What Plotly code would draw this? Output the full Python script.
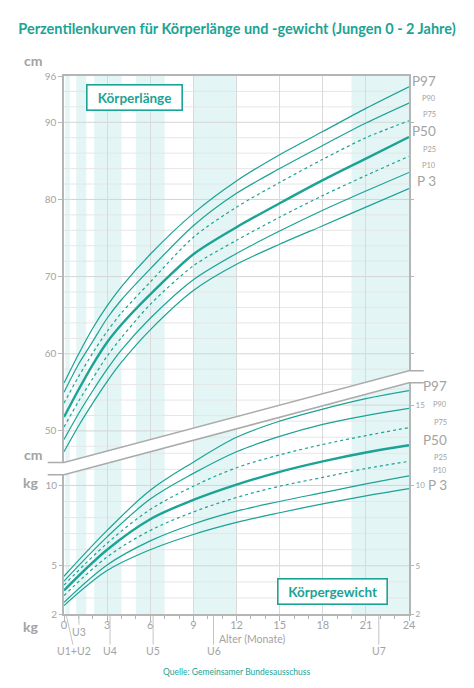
import plotly.graph_objects as go

# ---- data ---------------------------------------------------------------
percentiles = ["P97", "P90", "P75", "P50", "P25", "P10", "P 3"]

# Körperlänge (cm)
age_len = [0, 1, 2, 3, 4, 6, 9, 12, 15, 18, 21, 24]
len_p97 = [56.2, 59.9, 63.3, 66.2, 68.7, 72.9, 78.2, 82.4, 85.8, 88.8, 91.8, 94.6]
len_p90 = [55.0, 58.6, 61.6, 64.6, 67.0, 71.0, 76.6, 80.8, 84.0, 87.0, 89.9, 92.5]
len_p75 = [53.6, 57.0, 60.1, 62.9, 65.3, 69.3, 75.1, 79.0, 82.2, 85.2, 88.0, 90.2]
len_p50 = [51.8, 55.3, 58.6, 61.5, 63.8, 67.7, 72.9, 76.4, 79.5, 82.5, 85.3, 88.1]
len_p25 = [50.5, 53.8, 56.8, 59.7, 62.1, 66.4, 71.4, 74.7, 77.7, 80.5, 83.1, 85.6]
len_p10 = [48.9, 52.2, 55.2, 58.0, 60.5, 64.6, 69.6, 73.0, 75.9, 78.6, 81.1, 83.5]
len_p3 = [47.3, 50.6, 53.6, 56.4, 58.9, 63.1, 68.2, 71.6, 74.2, 76.6, 79.0, 81.4]

# Körpergewicht (kg)
age_wt = [0, 3, 6, 9, 12, 15, 18, 21, 24]
wt_p97 = [4.35, 7.2, 9.7, 11.45, 13.0, 14.0, 14.75, 15.4, 15.9]
wt_p90 = [4.05, 6.8, 9.15, 10.75, 12.1, 13.05, 13.8, 14.35, 14.8]
wt_p75 = [3.8, 6.4, 8.5, 9.95, 11.1, 11.9, 12.55, 13.1, 13.6]
wt_p50 = [3.47, 6.0, 7.9, 9.1, 10.05, 10.85, 11.5, 12.05, 12.5]
wt_p25 = [3.14, 5.55, 7.2, 8.35, 9.25, 9.95, 10.5, 11.05, 11.5]
wt_p10 = [2.72, 5.05, 6.55, 7.6, 8.4, 9.0, 9.55, 10.1, 10.6]
wt_p3 = [2.52, 4.7, 6.0, 6.95, 7.7, 8.3, 8.85, 9.35, 9.8]

# U-Untersuchungen: Zeitfenster (Monate) und Markierungen
band_start = [0.1, 0.85, 2.1, 5.0, 9.0, 20.0]
band_end = [0.4, 1.55, 4.0, 7.0, 12.0, 24.0]
u_names = ["U1+U2", "U3", "U4", "U5", "U6", "U7"]
u_age = [0.17, 1.04, 3.2, 6.2, 10.4, 21.9]

x_ticks = [0, 3, 6, 9, 12, 15, 18, 21, 24]
len_ticks = [50, 60, 70, 80, 90, 96]
wt_ticks_left = [2, 5, 10]
wt_ticks_right = [2, 5, 10, 15]

length_series = [len_p97, len_p90, len_p75, len_p50, len_p25, len_p10, len_p3]
weight_series = [wt_p97, wt_p90, wt_p75, wt_p50, wt_p25, wt_p10, wt_p3]

# ---- layout geometry ----------------------------------------------------
W, H = 474, 688
ML, MR, MT, MB = 64.3, 64.8, 76, 73.7
PW = W - ML - MR
PH = H - MT - MB
LEN_RANGE = [26.27, 96]
WT_RANGE = [2, 35.48]

TEAL = "#1ba395"
GREY = "#a3a3a3"
AXIS = "#b5b5b5"
BAND = "#e3f5f5"
FONT = "Lato"


def fx(px):
    return (px - ML) / PW


def fy(py):
    return (H - MB - py) / PH


def p_len(v):
    return (v - LEN_RANGE[0]) / (LEN_RANGE[1] - LEN_RANGE[0])


def p_wt(v):
    return (v - WT_RANGE[0]) / (WT_RANGE[1] - WT_RANGE[0])


# axis break (pixel positions of the two diagonal lines)
UP = (462.7, 371)
LO = (475, 383)
up0, up1 = fy(UP[0]), fy(UP[1])
lo0, lo1 = fy(LO[0]), fy(LO[1])

fig = go.Figure()

styles = [
    dict(width=1.2),
    dict(width=1.2),
    dict(width=1.2, dash="3px,3px"),
    dict(width=2.4),
    dict(width=1.2, dash="3px,3px"),
    dict(width=1.2),
    dict(width=1.2),
]

for name, ys, st in zip(percentiles, length_series, styles):
    fig.add_trace(go.Scatter(
        x=age_len, y=ys, mode="lines", name=name, yaxis="y",
        line=dict(color=TEAL, shape="spline", smoothing=0.8, **st),
        hoverinfo="skip", showlegend=False))

for name, ys, st in zip(percentiles, weight_series, styles):
    fig.add_trace(go.Scatter(
        x=age_wt, y=ys, mode="lines", name=name, yaxis="y2",
        line=dict(color=TEAL, shape="spline", smoothing=1.0, **st),
        hoverinfo="skip", showlegend=False))

# empty traces so the extra tick axes are drawn
for ax in ["y3", "y4"]:
    fig.add_trace(go.Scatter(x=[None], y=[None], yaxis=ax, showlegend=False,
                             hoverinfo="skip"))

shapes = []
# shaded U windows
for a, b in zip(band_start, band_end):
    shapes.append(dict(type="rect", xref="x", yref="paper", x0=a, x1=b,
                       y0=0, y1=1, fillcolor=BAND, line_width=0, layer="below"))

# horizontal grid, length part (above the upper break line)
for v in range(46, 96, 2):
    p = p_len(v)
    f = (p - up0) / (up1 - up0)
    if f <= 0.01:
        continue
    shapes.append(dict(type="line", xref="x", yref="paper", x0=0,
                       x1=24 * min(1, f), y0=p, y1=p, layer="below",
                       line=dict(color="#d4d4d4" if v % 10 == 0 else "#e6e6e6",
                                 width=1)))
# horizontal grid, weight part (below the lower break line)
for v in range(3, 17):
    p = p_wt(v)
    f = (p - lo0) / (lo1 - lo0)
    if f >= 0.99:
        continue
    shapes.append(dict(type="line", xref="x", yref="paper",
                       x0=24 * max(0, f), x1=24, y0=p, y1=p, layer="below",
                       line=dict(color="#d4d4d4" if v % 5 == 0 else "#e6e6e6",
                                 width=1)))

# white gap of the axis break
shapes.append(dict(
    type="path", xref="paper", yref="paper", layer="above",
    path=(f"M {fx(48)},{up0} L {fx(ML)},{up0} L 1,{up1} L {fx(424)},{up1} "
          f"L {fx(424)},{lo1} L 1,{lo1} L {fx(ML)},{lo0} L {fx(48)},{lo0} Z"),
    fillcolor="white", line_width=0))
for a, b in [(up0, up1), (lo0, lo1)]:
    shapes.append(dict(
        type="path", xref="paper", yref="paper", layer="above",
        path=f"M {fx(48)},{a} L {fx(ML)},{a} L 1,{b} L {fx(424)},{b}",
        line=dict(color="#ababab", width=1.5)))

# U leader lines
for name, a in zip(u_names, u_age):
    if name == "U1+U2":
        shapes.append(dict(type="line", xref="x", yref="paper", x0=a, x1=a + 0.45,
                           y0=fy(616), y1=fy(645), line=dict(color="#c4c4c4", width=1)))
    elif name == "U3":
        shapes.append(dict(type="line", xref="x", yref="paper", x0=a, x1=a,
                           y0=fy(616), y1=fy(625), line=dict(color="#c4c4c4", width=1)))
    else:
        shapes.append(dict(type="line", xref="x", yref="paper", x0=a, x1=a,
                           y0=fy(616), y1=fy(645), line=dict(color="#c4c4c4", width=1)))

annotations = []


def label(text, px, py, size, color=GREY, xanchor="center", **kw):
    annotations.append(dict(text=text, x=fx(px), y=fy(py), xref="paper", yref="paper",
                            xanchor=xanchor, yanchor="middle", showarrow=False,
                            font=dict(family=FONT, size=size, color=color), **kw))


label("<b>cm</b>", 33, 60, 14)
label("<b>cm</b>", 33, 455, 14)
label("<b>kg</b>", 31, 483, 14)
label("<b>kg</b>", 31, 627, 14)

# percentile labels on the right
len_label_y = [81, 98.3, 114.3, 130.7, 149.3, 166, 181]
wt_label_y = [386, 405, 422.7, 440, 457.3, 470.7, 485.7]
for name, yl, yw in zip(percentiles, len_label_y, wt_label_y):
    big = name in ("P97", "P50", "P 3")
    label(name, 438.5, yl, 13.5 if big else 7.5, xanchor="right")
    label(name, 449, yw, 13.5 if big else 7.5, xanchor="right")

label("<b>Körperlänge</b>", 134.3, 97.2, 13.5, color=TEAL,
      bordercolor=TEAL, borderwidth=1.6, borderpad=3, bgcolor="white",
      width=88, height=18)
label("<b>Körpergewicht</b>", 332.7, 592.2, 13.5, color=TEAL,
      bordercolor=TEAL, borderwidth=1.6, borderpad=3, bgcolor="white",
      width=102, height=18)

label("Alter (Monate)", 253, 639, 10.5)
for name, a in zip(u_names, u_age):
    px = ML + a * PW / 24
    if name == "U1+U2":
        label(name, px + 7.5, 651, 10.5)
    elif name == "U3":
        label(name, px + 0.5, 632, 10.5)
    else:
        label(name, px, 651, 10.5)

label("Quelle: Gemeinsamer Bundesausschuss", 237, 672, 8.5, color=TEAL)

tickfont = dict(family=FONT, size=10, color=GREY)

fig.update_layout(
    width=W, height=H,
    margin=dict(l=ML, r=MR, t=MT, b=MB, pad=0),
    paper_bgcolor="white", plot_bgcolor="white",
    font=dict(family=FONT, color=GREY),
    title=dict(text="<b>Perzentilenkurven für Körperlänge und -gewicht (Jungen 0 - 2 Jahre)</b>",
               x=0.5, xanchor="center", y=1 - 28.5 / H, yanchor="middle",
               font=dict(family=FONT, size=14.5, color=TEAL)),
    xaxis=dict(range=[0, 24], tickvals=x_ticks, showgrid=True, gridcolor="#dadada",
               gridwidth=1, zeroline=False, showline=True, mirror=True,
               linecolor=AXIS, linewidth=1.5, ticks="outside", ticklen=5,
               tickcolor=AXIS, tickfont=dict(family=FONT, size=11, color=GREY),
               ticklabelstandoff=-5,
               minor=dict(dtick=1, tick0=0, ticks="outside", ticklen=3,
                          tickcolor=AXIS, showgrid=False)),
    yaxis=dict(range=LEN_RANGE, tickvals=len_ticks, showgrid=False, zeroline=False,
               showline=True, mirror=True, linecolor=AXIS, linewidth=1.5,
               ticks="outside", ticklen=4, tickcolor=AXIS, tickfont=tickfont),
    yaxis2=dict(range=WT_RANGE, overlaying="y", side="right", tickvals=wt_ticks_right,
                showgrid=False, zeroline=False, showline=False, ticks="outside",
                ticklen=4, tickcolor=AXIS,
                tickfont=dict(family=FONT, size=8, color=GREY)),
    yaxis3=dict(range=WT_RANGE, overlaying="y", side="left", tickvals=wt_ticks_left,
                showgrid=False, zeroline=False, showline=False, ticks="outside",
                ticklen=4, tickcolor=AXIS, tickfont=tickfont),
    yaxis4=dict(range=LEN_RANGE, overlaying="y", side="right", tickvals=[60, 70, 80, 90],
                showgrid=False, zeroline=False, showline=False, ticks="outside",
                ticklen=4, tickcolor=AXIS, showticklabels=False),
    shapes=shapes,
    annotations=annotations,
    showlegend=False,
)

fig.write_html("out.html", config={"displayModeBar": False},
               post_script="document.body.style.margin='0';")
